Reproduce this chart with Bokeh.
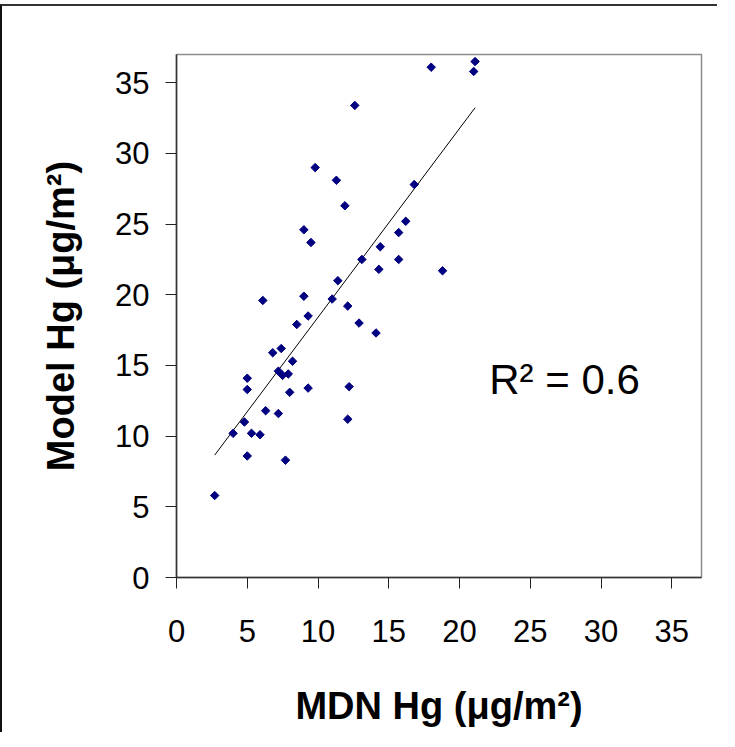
import numpy as np
from bokeh.plotting import figure
from bokeh.models import Label, FixedTicker, Range1d
from bokeh.embed import file_html
from bokeh.resources import INLINE

# ---- data ----
mdn_hg = [18.0, 21.1, 21.0, 12.6, 9.8, 11.3, 11.9, 16.8, 16.2, 15.7, 9.0, 9.5,
          14.4, 13.1, 15.7, 14.3, 18.8, 11.4, 9.0, 6.1, 11.0, 12.1, 9.3, 8.5,
          12.9, 14.1, 7.4, 6.8, 8.2, 7.2, 7.5, 7.9, 5.0, 5.0, 8.0, 9.3, 12.2,
          6.3, 7.2, 12.1, 4.8, 4.0, 5.3, 5.9, 5.0, 7.7, 2.7]
model_hg = [36.1, 36.5, 35.8, 33.4, 29.0, 28.1, 26.3, 27.8, 25.2, 24.4, 24.6, 23.7,
            23.4, 22.5, 22.5, 21.8, 21.7, 21.0, 19.9, 19.6, 19.7, 19.2, 18.5, 17.9,
            18.0, 17.3, 16.2, 15.9, 15.3, 14.6, 14.3, 14.4, 14.1, 13.3, 13.1, 13.4, 13.5,
            11.8, 11.6, 11.2, 11.0, 10.2, 10.2, 10.1, 8.6, 8.3, 5.8]
tick_values = [0, 5, 10, 15, 20, 25, 30, 35]
r2_text = "R\u00b2 = 0.6"

# ---- linear trend line from the data ----
xa = np.array(mdn_hg)
ya = np.array(model_hg)
slope, intercept = np.polyfit(xa, ya, 1)
trend_x = [xa.min(), xa.max()]
trend_y = [slope * v + intercept for v in trend_x]

FONT = "Liberation Sans"

p = figure(width=717, height=728, output_backend="svg", toolbar_location=None,
           x_range=Range1d(0, 37.1), y_range=Range1d(0, 37.0),
           min_border_left=174, min_border_right=18, min_border_top=48,
           min_border_bottom=157)
p.styles = {"border-top": "2px solid #333333", "border-left": "2px solid #111111",
            "transform": "translateY(4px)"}

p.background_fill_color = "white"
p.border_fill_color = "white"
p.outline_line_color = "#8c8c8c"
p.outline_line_width = 1.5
p.xgrid.visible = False
p.ygrid.visible = False

for ax in (p.xaxis[0], p.yaxis[0]):
    ax.ticker = FixedTicker(ticks=tick_values)
    ax.minor_tick_line_color = None
    ax.major_tick_in = 0
    ax.major_tick_out = 11
    ax.major_tick_line_color = "#222222"
    ax.axis_line_color = "#333333"
    ax.axis_line_width = 1.5
    ax.major_label_text_font = FONT
    ax.major_label_text_font_size = "31px"
    ax.major_label_text_color = "black"
    ax.axis_label_text_font = FONT
    ax.axis_label_text_font_size = "38px"
    ax.axis_label_text_font_style = "bold"
    ax.axis_label_text_color = "black"

p.xaxis.axis_label = "MDN Hg (\u03bcg/m\u00b2)"
p.yaxis.axis_label = "Model Hg (\u03bcg/m\u00b2)"
p.xaxis.major_label_standoff = 31
p.yaxis.major_label_standoff = 16
p.xaxis.axis_label_standoff = 40
p.yaxis.axis_label_standoff = 30

p.line(trend_x, trend_y, line_color="black", line_width=1)
p.scatter(mdn_hg, model_hg, marker="square", angle=np.pi / 4, size=6,
          fill_color="#000080", line_color="#000080", line_width=1)

p.add_layout(Label(x=22.1, y=14.0, text=r2_text, text_font=FONT,
                   text_font_size="42px", text_color="black",
                   text_baseline="alphabetic", text_align="left"))

open("out.html", "w").write(file_html(p, INLINE))
